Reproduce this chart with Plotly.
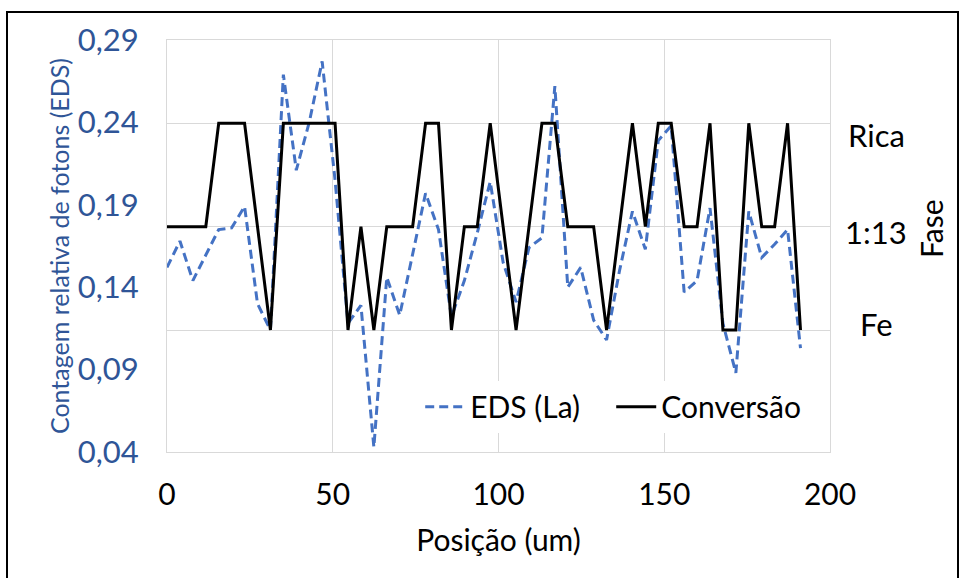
import plotly.graph_objects as go

# ---- data ----
posicao_um = [0, 3.9, 7.8, 11.7, 15.6, 19.5, 23.4, 27.3, 31.2, 35.1,
              39.0, 42.9, 46.8, 50.7, 54.6, 58.5, 62.4, 66.3, 70.2, 74.1,
              78.0, 81.9, 85.8, 89.7, 93.6, 97.5, 101.4, 105.3, 109.2, 113.1,
              117.0, 120.9, 124.8, 128.7, 132.6, 136.5, 140.4, 144.3, 148.2, 152.1,
              156.0, 159.9, 163.8, 167.7, 171.6, 175.5, 179.4, 183.3, 187.2, 191.1]

eds_la = [0.152, 0.168, 0.144, 0.160, 0.175, 0.176, 0.189, 0.130, 0.114, 0.269,
          0.211, 0.240, 0.277, 0.205, 0.118, 0.129, 0.043, 0.146, 0.123, 0.160,
          0.197, 0.175, 0.122, 0.144, 0.173, 0.204, 0.155, 0.131, 0.164, 0.170,
          0.262, 0.140, 0.152, 0.120, 0.108, 0.150, 0.186, 0.163, 0.229, 0.238,
          0.137, 0.144, 0.188, 0.118, 0.088, 0.186, 0.158, 0.166, 0.175, 0.103]

# phase level: 1 = Fe, 2 = 1:13, 3 = Rica
conversao = [2, 2, 2, 2, 3, 3, 3, 2, 1, 3,
             3, 3, 3, 3, 1, 2, 1, 2, 2, 2,
             3, 3, 1, 2, 2, 3, 2, 1, 2, 3,
             3, 2, 2, 2, 1, 2, 3, 2, 3, 3,
             2, 2, 3, 1, 1, 3, 2, 2, 3, 1]

phase_levels = [3, 2, 1]
phase_labels = ["Rica", "1:13", "Fe"]
left_ticks = [0.04, 0.09, 0.14, 0.19, 0.24, 0.29]
x_ticks = [0, 50, 100, 150, 200]

FONT = "Lato"
BLUE_TXT = "#2F5597"
GRID = "#D9D9D9"

fig = go.Figure()
fig.add_trace(go.Scatter(x=posicao_um, y=eds_la, name="EDS (La)", mode="lines",
                         line=dict(color="#4472C4", width=3, dash="9px,5px"),
                         yaxis="y"))
fig.add_trace(go.Scatter(x=posicao_um, y=conversao, name="Conversão", mode="lines",
                         line=dict(color="black", width=3),
                         yaxis="y2"))

label_shift = [-12, -5, 6]
for lv, txt, sh in zip(phase_levels, phase_labels, label_shift):
    fig.add_annotation(x=1.0695, xref="paper", y=lv, yref="y2", yshift=sh,
                       text=txt, showarrow=False, xanchor="center",
                       font=dict(family=FONT, size=31, color="black"))
fig.add_annotation(x=(931 - 167) / 663, xref="paper", y=(452 - 228) / 412, yref="paper",
                   text="Fase", textangle=-90, showarrow=False,
                   xanchor="center", yanchor="middle",
                   font=dict(family=FONT, size=30, color="black"))

# outer border of chart area
fig.add_shape(type="rect", xref="paper", yref="paper",
              x0=(7 - 167) / 663, x1=(958 - 167) / 663,
              y0=(452 - 600) / 412, y1=(452 - 12) / 412,
              line=dict(color="black", width=2), layer="below")

fig.update_layout(
    width=968, height=578,
    margin=dict(l=167, r=138, t=40, b=126),
    paper_bgcolor="white", plot_bgcolor="white",
    separators=",.",
    font=dict(family=FONT, size=30, color="black"),
    showlegend=True,
    legend=dict(orientation="h", x=0.670, xanchor="center", y=0.11, yanchor="middle",
                bgcolor="white", font=dict(family=FONT, size=30, color="black"),
                itemwidth=40, entrywidth=136, tracegroupgap=0),
    xaxis=dict(range=[0, 200], tickvals=x_ticks, showgrid=True, gridcolor=GRID, gridwidth=1,
               zeroline=False, showline=True, linecolor=GRID, linewidth=1, mirror=True,
               ticks="", ticklabelstandoff=16, automargin=False,
               tickfont=dict(family=FONT, size=30, color="black"),
               title=dict(text="Posição (um)", standoff=19,
                          font=dict(family=FONT, size=30, color="black"))),
    yaxis=dict(range=[0.04, 0.29], tickvals=left_ticks, tickformat=".2f", showgrid=False,
               zeroline=False, showline=True, linecolor=GRID, linewidth=1, mirror=True,
               ticks="", ticklabelstandoff=21, automargin=False,
               tickfont=dict(family=FONT, size=31, color=BLUE_TXT),
               title=dict(text="Contagem relativa de fotons (EDS)", standoff=1,
                          font=dict(family=FONT, size=25, color=BLUE_TXT))),
    yaxis2=dict(overlaying="y", side="right", range=[-0.180, 3.806], tickvals=phase_levels,
                showticklabels=False, showgrid=True, gridcolor=GRID, gridwidth=1,
                zeroline=False, showline=False, ticks="", automargin=False),
)

fig.write_html("out.html", config={"displayModeBar": False},
               post_script="document.body.style.margin='0px';")
